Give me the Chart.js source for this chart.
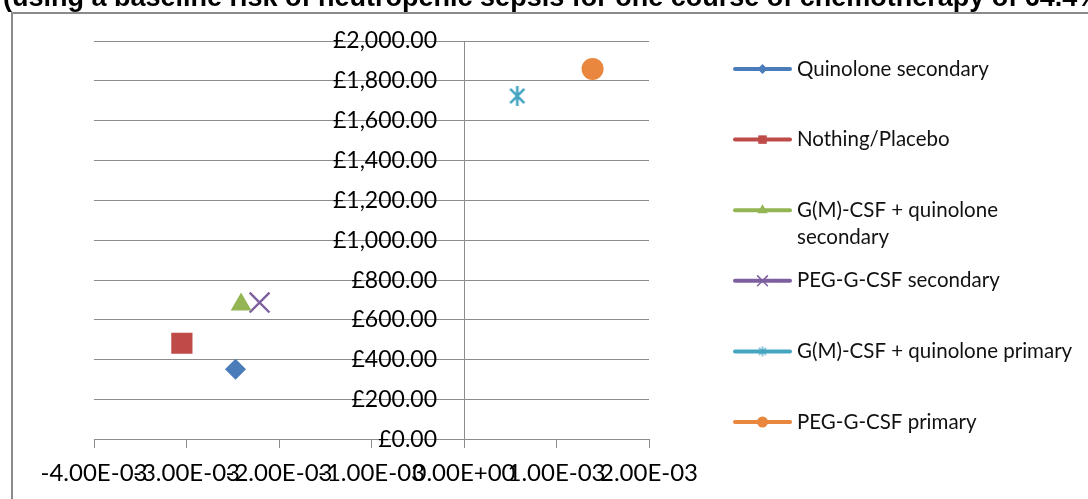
<!DOCTYPE html>
<html>
<head>
<meta charset="utf-8">
<title>Incremental cost vs incremental effect</title>
<script src="https://cdn.jsdelivr.net/npm/chart.js@4.4.1/dist/chart.umd.min.js"></script>
<style>
  html, body { margin: 0; padding: 0; background: #fff; }
  #wrap { width: 1088px; height: 499px; position: relative; overflow: hidden; }
</style>
</head>
<body>
<div id="wrap"><canvas id="planeChart" width="1088" height="499"></canvas></div>
<script>
// Strategies plotted on the plane
const seriesNames = [
  'Quinolone secondary',
  'Nothing/Placebo',
  'G(M)-CSF + quinolone secondary',
  'PEG-G-CSF secondary',
  'G(M)-CSF + quinolone primary',
  'PEG-G-CSF primary'
];
// Incremental effect (x) and incremental cost in £ (y), one value per strategy
const effects = [-0.00247, -0.00305, -0.00241, -0.00221, 0.000576, 0.00139];
const costs = [352, 483, 678, 687, 1724, 1860];

const seriesColors = ['#4A7CBA', '#BE4B48', '#93B553', '#7D5FA0', '#45A5C0', '#E8873D'];

// Axis ticks and their printed labels
const xTicks = [-0.004, -0.003, -0.002, -0.001, 0, 0.001, 0.002];
const xTickLabels = ['-4.00E-03', '-3.00E-03', '-2.00E-03', '-1.00E-03', '0.00E+00', '1.00E-03', '2.00E-03'];
const yTicks = [0, 200, 400, 600, 800, 1000, 1200, 1400, 1600, 1800, 2000];
const yTickLabels = ['£0.00', '£200.00', '£400.00', '£600.00', '£800.00', '£1,000.00',
  '£1,200.00', '£1,400.00', '£1,600.00', '£1,800.00', '£2,000.00'];

const titleText = '(using a baseline risk of neutropenic sepsis for one course of chemotherapy of 64.4%)';

const gridGrey = '#8c8c8c';

// Excel-style asterisk marker: vertical bar plus two diagonals
function makeAsterisk(size, color, lw) {
  const c = document.createElement('canvas');
  c.width = size;
  c.height = size;
  const g = c.getContext('2d');
  const m = size / 2, r = size / 2 - 1;
  const d = r * Math.SQRT1_2;
  g.strokeStyle = color;
  g.lineWidth = lw;
  g.beginPath();
  g.moveTo(m, m - r); g.lineTo(m, m + r);
  g.moveTo(m - d, m - d); g.lineTo(m + d, m + d);
  g.moveTo(m - d, m + d); g.lineTo(m + d, m - d);
  g.stroke();
  return c;
}

const pointStyles = ['rectRot', 'rect', 'triangle', 'crossRot', makeAsterisk(22, seriesColors[4], 2.6), 'circle'];
const pointRadii = [10.5, 15, 12, 14, 11, 11];

const legendStyles = ['rectRot', 'rect', 'triangle', 'crossRot', makeAsterisk(12, seriesColors[4], 1.2), 'circle'];
const legendRadii = [5, 6, 6, 7, 6, 5.5];

const datasets = seriesNames.map((name, i) => ({
  label: name,
  data: [{ x: effects[i], y: costs[i] }],
  backgroundColor: seriesColors[i],
  borderColor: seriesColors[i],
  borderWidth: pointStyles[i] === 'crossRot' ? 2.4 : 0,
  pointStyle: pointStyles[i],
  pointRadius: pointRadii[i],
  pointHoverRadius: pointRadii[i]
}));

// White page, the outer chart frame and the clipped heading above it
const framePlugin = {
  id: 'frame',
  beforeDraw(chart) {
    const ctx = chart.ctx;
    ctx.save();
    ctx.fillStyle = '#fff';
    ctx.fillRect(0, 0, chart.width, chart.height);
    ctx.strokeStyle = '#8a8a8a';
    ctx.lineWidth = 2;
    ctx.strokeRect(12, 13, chart.width + 20, chart.height + 20);
    ctx.fillStyle = '#000';
    ctx.font = 'bold 27px "Liberation Sans", Arial, sans-serif';
    ctx.textBaseline = 'alphabetic';
    ctx.textAlign = 'left';
    ctx.fillText(titleText, 3, 6);
    ctx.restore();
  }
};

// Cost labels sit just left of the vertical axis at x = 0
const costLabels = {
  id: 'costLabels',
  beforeDatasetsDraw(chart) {
    const { ctx, scales: { x, y } } = chart;
    const right = x.getPixelForValue(0) - 27;
    ctx.save();
    ctx.font = '23px Lato, sans-serif';
    ctx.fillStyle = '#000';
    ctx.textAlign = 'right';
    ctx.textBaseline = 'middle';
    yTicks.forEach((v, i) => ctx.fillText(yTickLabels[i], right, y.getPixelForValue(v)));
    ctx.restore();
  }
};

// Right-hand legend: thick line with the series marker, wrapped label
const sideLegend = {
  id: 'sideLegend',
  afterDraw(chart) {
    const ctx = chart.ctx;
    const x0 = 735, x1 = 790, tx = 797, maxW = 282;
    const top = 69, step = 70.6, lineH = 27;
    ctx.save();
    ctx.font = '20.5px Lato, sans-serif';
    ctx.textBaseline = 'middle';
    ctx.textAlign = 'left';
    seriesNames.forEach((name, i) => {
      const y = top + i * step;
      const col = seriesColors[i];
      ctx.strokeStyle = col;
      ctx.lineWidth = 4;
      ctx.lineCap = 'round';
      ctx.beginPath();
      ctx.moveTo(x0, y);
      ctx.lineTo(x1, y);
      ctx.stroke();
      ctx.fillStyle = col;
      ctx.strokeStyle = col;
      ctx.lineWidth = 1.5;
      Chart.helpers.drawPoint(ctx, {
        pointStyle: legendStyles[i],
        radius: legendRadii[i],
        rotation: 0,
        borderWidth: legendStyles[i] === 'crossRot' ? 1.5 : 0
      }, (x0 + x1) / 2, y);

      // simple word wrap
      const words = name.split(' ');
      const lines = [];
      let cur = '';
      words.forEach(w => {
        const test = cur ? cur + ' ' + w : w;
        if (ctx.measureText(test).width > maxW && cur) {
          lines.push(cur);
          cur = w;
        } else {
          cur = test;
        }
      });
      lines.push(cur);
      ctx.fillStyle = '#111';
      lines.forEach((ln, k) => ctx.fillText(ln, tx, y + k * lineH));
    });
    ctx.restore();
  }
};

Chart.defaults.font.family = 'Lato, sans-serif';
Chart.defaults.color = '#000';

new Chart(document.getElementById('planeChart'), {
  type: 'scatter',
  data: { datasets },
  plugins: [framePlugin, costLabels, sideLegend],
  options: {
    responsive: false,
    animation: false,
    devicePixelRatio: 1,
    layout: {
      autoPadding: false,
      padding: { left: 94, right: 439, top: 41, bottom: 59.5 }
    },
    plugins: {
      legend: { display: false },
      tooltip: { enabled: false }
    },
    scales: {
      x: {
        type: 'linear',
        position: { y: 0 },
        min: xTicks[0],
        max: xTicks[xTicks.length - 1],
        afterBuildTicks(scale) {
          scale.ticks = xTicks.map(v => ({ value: v }));
        },
        ticks: {
          autoSkip: false,
          maxRotation: 0,
          minRotation: 0,
          padding: 11,
          font: { size: 24 },
          callback: (v, i) => xTickLabels[i]
        },
        grid: {
          drawOnChartArea: false,
          drawTicks: true,
          tickLength: 8,
          color: gridGrey
        },
        border: { display: true, color: gridGrey, width: 1 }
      },
      y: {
        type: 'linear',
        position: { x: 0 },
        min: yTicks[0],
        max: yTicks[yTicks.length - 1],
        afterBuildTicks(scale) {
          scale.ticks = yTicks.map(v => ({ value: v }));
        },
        ticks: { display: false },
        grid: {
          drawTicks: false,
          color: gridGrey
        },
        border: { display: true, color: gridGrey, width: 1 }
      }
    }
  }
});
</script>
</body>
</html>
